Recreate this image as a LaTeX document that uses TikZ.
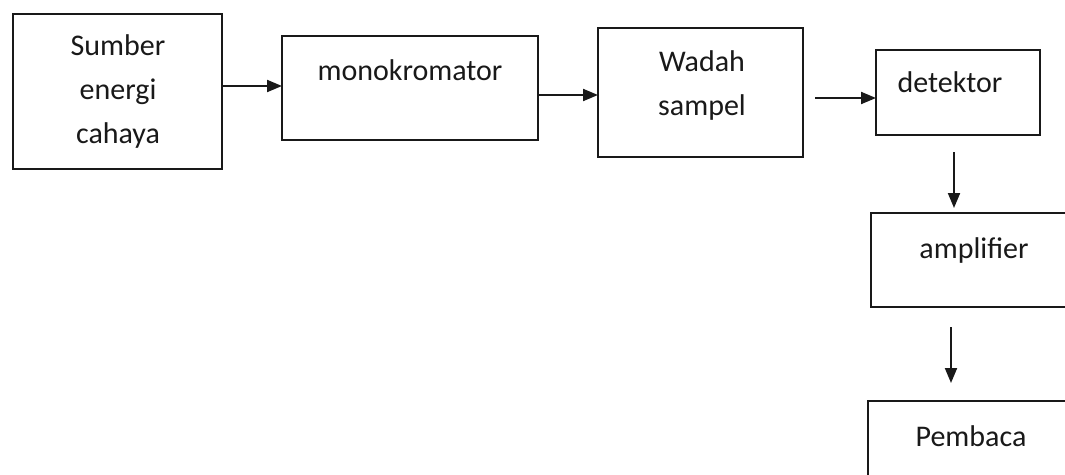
\documentclass[tikz,border=0pt]{standalone}
\usepackage{fontspec}
\setmainfont{Carlito}
\usetikzlibrary{arrows.meta}
\begin{document}
\begin{tikzpicture}[x=1pt,y=-1pt,
  blk/.style={draw=black!90, line width=2pt, fill=none, inner sep=0pt, outer sep=0pt},
  lbl/.style={font=\fontsize{30}{44}\selectfont, text=black!90, align=center, inner sep=0pt},
  conn/.style={line width=2pt, draw=black!90, -{Triangle[length=15pt,width=12pt]}}]
\useasboundingbox (0,0) rectangle (1065,474);
\fill[white] (0,0) rectangle (1065,474);
\clip (0,0) rectangle (1065,474);
% boxes
\node[blk, minimum width=209pt, minimum height=155pt] (b1) at (117.5,91.5) {};
\node[blk, minimum width=256pt, minimum height=104pt] (b2) at (410,88) {};
\node[blk, minimum width=205pt, minimum height=129pt] (b3) at (700.5,92.5) {};
\node[blk, minimum width=164pt, minimum height=85pt] (b4) at (958,92.5) {};
\node[blk, minimum width=209pt, minimum height=94pt] (b5) at (975.5,260) {};
\node[blk, minimum width=212pt, minimum height=89pt] (b6) at (974,445.5) {};
\coordinate (a3s) at (815,98);
% labels
\node[lbl] (t1) at (118,91) {Sumber\\energi\\cahaya};
\node[lbl] (t2) at (410,70) {monokromator};
\node[lbl] (t3) at (702,85) {Wadah\\sampel};
\node[lbl] (t4) at (950,82) {detektor};
\node[lbl] (t5) at (974,250) {amplifier};
\node[lbl] (t6) at (971,436) {Pembaca};
% connectors
\draw[conn] (b1.east |- 0,86) -- (b2.west |- 0,86);
\draw[conn] (b2.east |- 0,95) -- (b3.west |- 0,95);
\draw[conn] (a3s) -- (b4.west |- a3s);
\draw[conn] ([yshift=-17pt]b4.south -| 954,0) -- ([yshift=5pt]b5.north -| 954,0);
\draw[conn] ([yshift=-20pt]b5.south -| 951,0) -- ([yshift=18pt]b6.north -| 951,0);
\end{tikzpicture}
\end{document}
